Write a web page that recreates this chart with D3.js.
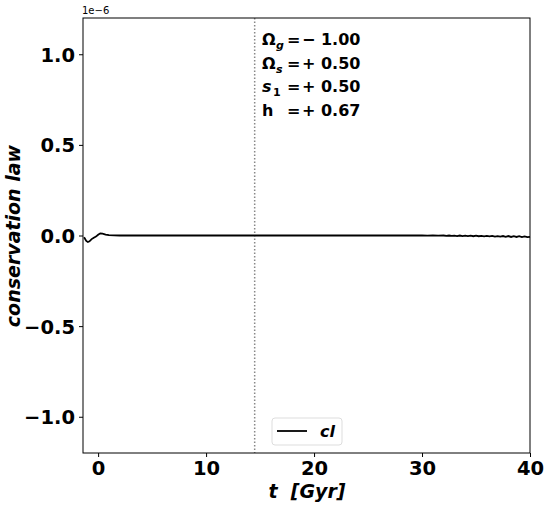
<!DOCTYPE html>
<html><head><meta charset="utf-8">
<script src="https://cdn.jsdelivr.net/npm/d3@7"></script>
<style>body{margin:0;background:#fff}svg{display:block}text{font-family:"DejaVu Sans",sans-serif;white-space:pre}</style>
</head><body>
<svg id="c" width="549" height="511"></svg>
<script>
// data (y in units of 1e-6)
const tVals = [-1.3,-1.1,-0.95,-0.8,-0.6,-0.4,-0.2,0.0,0.2,0.4,0.7,1.0,1.5,2,5,10,15,20,25,28,
  30,30.5,31,31.5,32,32.25,32.5,32.75,33,33.25,33.5,33.75,34,34.25,34.5,34.75,35,35.25,35.5,35.75,36,36.25,36.5,36.75,37,37.25,37.5,37.75,38,38.25,38.5,38.75,39,39.25,39.5,39.75,40];
const clVals = [-0.01,-0.03,-0.036,-0.032,-0.02,-0.012,-0.006,0.004,0.012,0.01,0.005,0.002,0.001,0.0,0.0,0.0,0.0,0.0,0.0,0.0,
  0.0,-0.001,0.0,-0.001,0.0,-0.002,0.0,-0.002,-0.001,-0.003,0.0,-0.003,-0.001,-0.003,-0.001,-0.004,-0.001,-0.004,-0.002,-0.005,-0.002,-0.005,-0.002,-0.006,-0.003,-0.006,-0.003,-0.007,-0.003,-0.008,-0.004,-0.008,-0.004,-0.009,-0.005,-0.009,-0.007];
const xTicks = [0,10,20,30,40];
const yTicks = [-1.0,-0.5,0.0,0.5,1.0];
const tNow = 14.5;
const params = [
  {sym:"Ω", sub:"g", symItalic:false, subItalic:true, val:"− 1.00"},
  {sym:"Ω", sub:"s", symItalic:false, subItalic:true, val:"+ 0.50"},
  {sym:"s", sub:"1", symItalic:true, subItalic:false, val:"+ 0.50"},
  {sym:"h", sub:"", symItalic:false, subItalic:false, val:"+ 0.67"}
];

const svg = d3.select("#c");
const L=83, R=530, T=18, B=453;
const x = d3.scaleLinear().domain([-1.4,40]).range([L,R]);
const y = d3.scaleLinear().domain([-1.2,1.2]).range([B,T]);

// vertical dotted line
svg.append("line").attr("x1",x(tNow)).attr("x2",x(tNow)).attr("y1",T).attr("y2",B)
  .attr("stroke","#888").attr("stroke-width",1.5).attr("stroke-dasharray","1.5,2");

// curve
const data = tVals.map((t,i)=>[t,clVals[i]]);
svg.append("path").datum(data).attr("fill","none").attr("stroke","#000").attr("stroke-width",1.8)
  .attr("d", d3.line().x(d=>x(d[0])).y(d=>y(d[1])));

// frame
svg.append("rect").attr("x",L).attr("y",T).attr("width",R-L).attr("height",B-T)
  .attr("fill","none").attr("stroke","#000").attr("stroke-width",1);

// axes
const xa = svg.append("g").attr("transform",`translate(0,${B})`)
  .call(d3.axisBottom(x).tickValues(xTicks).tickSize(4).tickPadding(4).tickFormat(d3.format("d")));
const ya = svg.append("g").attr("transform",`translate(${L},0)`)
  .call(d3.axisLeft(y).tickValues(yTicks).tickSize(4).tickPadding(4).tickFormat(d3.format(".1f")));
[xa,ya].forEach(a=>{
  a.select(".domain").remove();
  a.selectAll("text").attr("font-size",19.5).attr("font-weight","bold").attr("fill","#000").style("font-family","DejaVu Sans");
  a.selectAll("line").attr("stroke","#000");
});
ya.selectAll("text").attr("dy","0.36em");

// offset text
svg.append("text").attr("x",L-1).attr("y",14).attr("font-size",10).text("1e−6");

// labels
svg.append("text").attr("x",307).attr("y",498).attr("text-anchor","middle")
  .attr("font-size",19).attr("font-weight","bold").attr("font-style","italic").text("t  [Gyr]");
svg.append("text").attr("transform","translate(20,236) rotate(-90)").attr("text-anchor","middle")
  .attr("font-size",19).attr("font-weight","bold").attr("font-style","italic").text("conservation law");

// annotations
params.forEach((p,i)=>{
  const yy = 45+i*23.7;
  const g = svg.append("g").attr("font-size",16).attr("font-weight","bold");
  g.append("text").attr("x",262).attr("y",yy).attr("font-style",p.symItalic?"italic":"normal").text(p.sym);
  if(p.sub) g.append("text").attr("x",p.symItalic?273:276).attr("y",yy+4).attr("font-size",11)
      .attr("font-style",p.subItalic?"italic":"normal").text(p.sub);
  g.append("text").attr("x",287).attr("y",yy).text("=");
  g.append("text").attr("x",302).attr("y",yy).text(p.val);
});

// legend
const lg = svg.append("g");
lg.append("rect").attr("x",272).attr("y",418).attr("width",70).attr("height",27).attr("rx",3)
  .attr("fill","#fff").attr("stroke","#ddd");
lg.append("line").attr("x1",277).attr("x2",307).attr("y1",431).attr("y2",431).attr("stroke","#000").attr("stroke-width",1.8);
lg.append("text").attr("x",320).attr("y",437).attr("font-size",16).attr("font-weight","bold").attr("font-style","italic").text("cl");
</script>
</body></html>
